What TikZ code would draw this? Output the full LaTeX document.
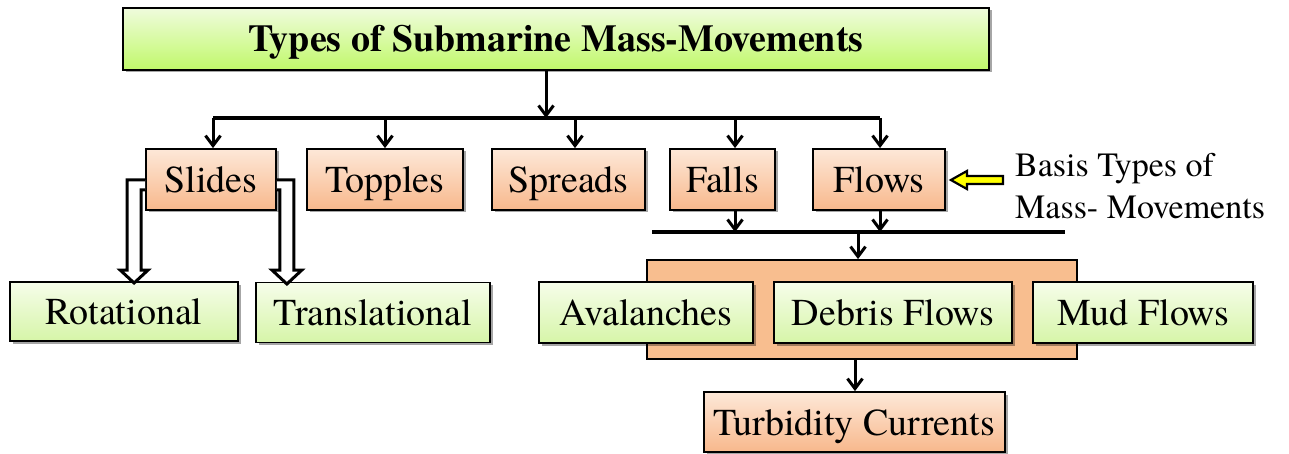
\documentclass[tikz,border=0pt]{standalone}
\usepackage{fontspec}
\setmainfont{TeX Gyre Termes}
\usetikzlibrary{arrows.meta,shadows,calc}
\definecolor{orTop}{RGB}{253,232,216}
\definecolor{orBot}{RGB}{248,184,140}
\definecolor{grTop}{RGB}{246,253,234}
\definecolor{grBot}{RGB}{214,245,168}
\definecolor{contFill}{RGB}{248,190,143}
\definecolor{arrYellow}{RGB}{255,255,0}
\tikzset{
  box/.style={draw=black, line width=1.8pt, inner sep=0pt, anchor=center,
    font=\fontsize{38}{44}\selectfont, text height=26pt, text depth=0pt,
    drop shadow={shadow xshift=2.5pt, shadow yshift=-2.5pt, opacity=0.35, fill=black}},
  orbox/.style={box, top color=orTop, bottom color=orBot},
  grbox/.style={box, top color=grTop, bottom color=grBot},
  conn/.style={line width=3pt, -{Straight Barb[length=10pt,width=15pt,line width=3pt]}},
  busline/.style={line width=3.2pt},
  hollow/.style={line width=3pt, fill=white, line join=miter},
}
\begin{document}
\begin{tikzpicture}[x=1pt,y=-1pt]
\useasboundingbox (0,0) rectangle (1289,454);
% container
\node[draw=black, line width=1.8pt, fill=contFill, minimum width=430pt, minimum height=99pt, inner sep=0pt] (cont) at (862,309.5) {};
% title
\node[box, line width=2.4pt, top color=grTop!80!grBot, bottom color=grBot!90!green!70!lime, minimum width=866pt, minimum height=62pt, font=\fontsize{38}{44}\selectfont\bfseries] (title) at (556,39) {Types of Submarine Mass-Movements};
% basic types
\node[orbox, minimum width=130pt, minimum height=61pt] (slides) at (211,179.5) {Slides};
\node[orbox, minimum width=156pt, minimum height=61pt] (topples) at (385,179.5) {Topples};
\node[orbox, minimum width=153pt, minimum height=61pt] (spreads) at (568.5,179.5) {Spreads};
\node[orbox, minimum width=105pt, minimum height=61pt] (falls) at (722.5,179.5) {Falls};
\node[orbox, minimum width=132pt, minimum height=61pt] (flows) at (879,179.5) {Flows};
% slide subtypes
\node[grbox, minimum width=228pt, minimum height=59pt] (rot) at (124,311.5) {Rotational};
\node[grbox, minimum width=234pt, minimum height=60pt] (trans) at (373,312.5) {Translational};
% flow subtypes
\node[grbox, minimum width=214pt, minimum height=61pt] (aval) at (646,312.5) {Avalanches};
\node[grbox, minimum width=238pt, minimum height=61pt] (debris) at (893,312.5) {Debris Flows};
\node[grbox, minimum width=220pt, minimum height=61pt] (mud) at (1143,312.5) {Mud Flows};
\node[orbox, minimum width=301pt, minimum height=60pt] (turb) at (854.5,422) {Turbidity Currents};
% label
\node[anchor=west, align=left, inner sep=0pt, font=\fontsize{34}{42}\selectfont] (basis) at (1015,186) {Basis Types of\\Mass- Movements};
% top bus
\coordinate (tb) at (546,118);
\coordinate (b1) at (213,118);
\coordinate (b2) at (385,118);
\coordinate (b3) at (575,118);
\coordinate (b4) at (735,118);
\coordinate (b5) at (880,118);
\draw[conn] (title.south -| tb) -- (tb);
\draw[busline] (b1) -- (b5);
\draw[conn] (b1) -- (b1 |- slides.north);
\draw[conn] (b2) -- (b2 |- topples.north);
\draw[conn] (b3) -- (b3 |- spreads.north);
\draw[conn] (b4) -- (b4 |- falls.north);
\draw[conn] (b5) -- (b5 |- flows.north);
% lower bus
\coordinate (lL) at (652,232);
\coordinate (lR) at (1065,232);
\coordinate (l1) at (735,232);
\coordinate (l2) at (880,232);
\coordinate (lc) at (858,232);
\draw[busline] (lL) -- (lR);
\draw[conn] (l1 |- falls.south) -- (l1);
\draw[conn] (l2 |- flows.south) -- (l2);
\draw[conn] (lc) -- (lc |- cont.north);
\coordinate (tc) at (855,0);
\draw[conn] (tc |- cont.south) -- (tc |- turb.north);
% hollow arrows from slides
\draw[hollow] ($(slides.west)+(0,0.5)$) -- ++(-18,0) -- ++(0,90) -- ++(-7,0) -- ++(14,13) -- ++(14,-13) -- ++(-7,0) -- ++(0,-80) -- ($(slides.west)+(0,10.5)$);
\draw[hollow] ($(slides.east)+(0,0.5)$) -- ++(17,0) -- ++(0,90) -- ++(8,0) -- ++(-15,14) -- ++(-15,-14) -- ++(8,0) -- ++(0,-80) -- ($(slides.east)+(0,10.5)$);
% yellow arrow
\draw[line width=2.2pt, fill=arrYellow, line join=miter] ($(flows.east)+(5,0.5)$) -- ++(16,-9) -- ++(0,5) -- ++(36,0) -- ++(0,8) -- ++(-36,0) -- ++(0,5) -- cycle;
\end{tikzpicture}
\end{document}
